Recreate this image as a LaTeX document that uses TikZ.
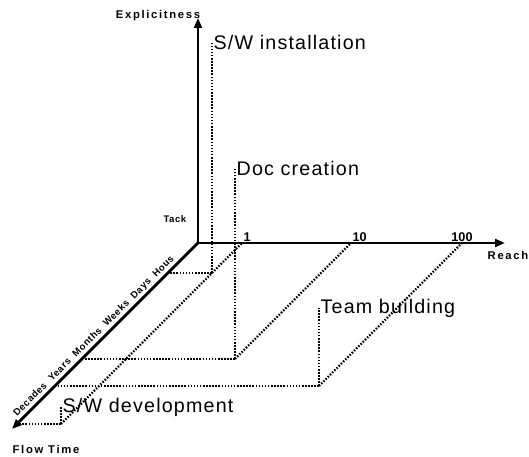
\documentclass[tikz,border=0pt]{standalone}
\usepackage{fontspec}
\setmainfont{Liberation Sans}
\newfontfamily\taskfont[LetterSpace=6]{Liberation Sans}
\newfontfamily\axisfont[LetterSpace=15]{Liberation Sans}
\newfontfamily\scalefont[LetterSpace=6]{Liberation Sans}
\usetikzlibrary{arrows.meta}

\begin{document}
\begin{tikzpicture}[
  x={(0.025cm,0)}, y={(0,0.025cm)}, z={(-0.025cm,-0.025cm)},
  axis/.style={line width=2pt, -{Triangle[length=7pt,width=5.5pt]}},
  guide/.style={line width=1.6pt, dash pattern=on 1.1pt off 1.1pt},
  task/.style={anchor=west, inner sep=1pt, font=\taskfont\fontsize{14}{16}\selectfont},
  axlbl/.style={inner sep=1pt, font=\axisfont\bfseries\fontsize{8}{9}\selectfont},
  ticklbl/.style={inner sep=1pt, font=\bfseries\fontsize{9}{10}\selectfont},
  scalelbl/.style={inner sep=1pt, font=\scalefont\bfseries\fontsize{6.8}{7}\selectfont}
]
  \useasboundingbox (-198,-214) rectangle (331,243);

  % axes
  \coordinate (O) at (0,0,0);
  \coordinate (R) at (307,0,0);
  \coordinate (E) at (0,225,0);
  \coordinate (T) at (0,0,186);

  % reach ticks
  \coordinate (r1) at (44,0,0);
  \coordinate (r10) at (153,0,0);
  \coordinate (r100) at (264,0,0);

  % S/W installation
  \coordinate (instB) at (44,0,30);
  \coordinate (instT) at (0,0,30);
  \node[task] (inst) at (44,231,30) {S/W installation};
  \draw[guide] (instB) -- (inst.west);
  \draw[guide] (instB) -- (instT);

  % Doc creation
  \coordinate (docB) at (153,0,116);
  \coordinate (docT) at (0,0,116);
  \node[task] (doc) at (153,191,116) {Doc creation};
  \draw[guide] (docB) -- (doc.west);
  \draw[guide] (docB) -- (docT);
  \draw[guide] (docB) -- (r10);

  % Team building
  \coordinate (teamB) at (264,0,143);
  \coordinate (teamT) at (0,0,143);
  \node[task] (team) at (264,78,143) {Team building};
  \draw[guide] (teamB) -- (team.west);
  \draw[guide] (teamB) -- (teamT);
  \draw[guide] (teamB) -- (r100);

  % S/W development
  \coordinate (devB) at (44,0,181);
  \coordinate (devT) at (0,0,181);
  \node[task] (dev) at (44,17,181) {S/W development};
  \draw[guide] (devB) -- (dev.west);
  \draw[guide] (devB) -- (devT);
  \draw[guide] (devB) -- (r1);

  \draw[axis] (O) -- (R);
  \draw[axis] (O) -- (E);
  \draw[axis] (O) -- (T);
  \path (T) -- (O) node[scalelbl, pos=0.47, sloped, above=1pt]
    {Decades\ \ Years\ \ Months\ \ Weeks\ \ Days\ \ Hous};

  \node[axlbl] (expl) at (-40,227) {Explicitness};
  \node[axlbl, anchor=north] (reach) at (310,-7) {Reach};
  \node[axlbl, anchor=north west] (flow) at (-187,-201) {Flow Time};
  \node[scalelbl, anchor=south east] (tack) at (-10,19) {Tack};
  \node[ticklbl, anchor=south west] (l1) at (r1) {1};
  \node[ticklbl, anchor=south west] (l10) at (r10) {10};
  \node[ticklbl, anchor=south] (l100) at (r100) {100};
\end{tikzpicture}
\end{document}
